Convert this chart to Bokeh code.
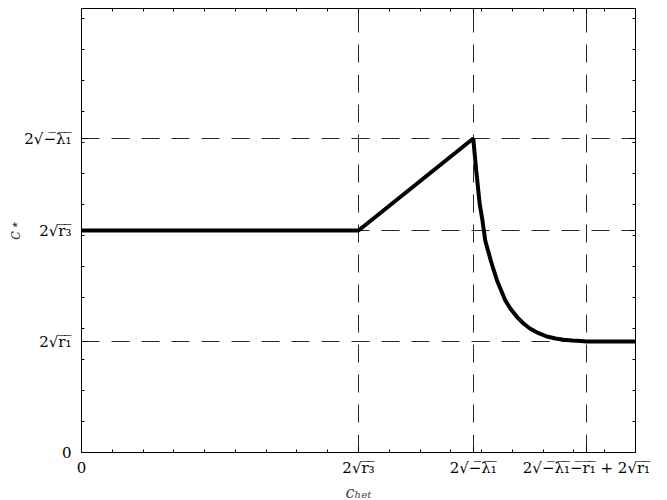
from bokeh.plotting import figure
from bokeh.models import FixedTicker, LinearAxis, Range1d
from bokeh.embed import file_html
from bokeh.resources import INLINE

OV = "\u0305"


def ov(s):
    return "".join(ch + OV for ch in s)


# model parameters used for tick positions: r1 = 1, r3 = 4, lambda1 = -8
x_ticks = [0.0, 4.0, 5.657, 7.292]
x_tick_labels = ["0", "2√" + ov("r₃"), "2√" + ov("−λ₁"),
                 "2√" + ov("−λ₁−r₁") + " + 2√" + ov("r₁")]
y_ticks = [0.0, 2.0, 4.0, 5.657]
y_tick_labels = ["0", "2√" + ov("r₁"), "2√" + ov("r₃"), "2√" + ov("−λ₁")]

# c* as a function of c
curve_x = [0.0, 4.0, 5.657, 5.70, 5.75, 5.79, 5.83, 5.91, 5.954, 6.00, 6.05,
           6.12, 6.195, 6.29, 6.387, 6.48, 6.60, 6.72, 6.845, 6.96, 7.086,
           7.21, 7.292, 8.0]
curve_y = [4.0, 4.0, 5.657, 5.08, 4.48, 4.18, 3.82, 3.46, 3.28, 3.10, 2.95,
           2.74, 2.59, 2.44, 2.32, 2.23, 2.15, 2.09, 2.054, 2.03, 2.018,
           2.01, 2.0, 2.0]

x_minor = [k * 8.0 / 18.0 for k in range(19)]
y_minor = [k * 0.5586 for k in range(15)]

FONT = "DejaVu Serif"

p = figure(frame_width=554, frame_height=444,
           x_range=Range1d(0, 8), y_range=Range1d(0, 8),
           output_backend="svg", toolbar_location=None,
           min_border_left=81, min_border_right=30,
           min_border_top=8, min_border_bottom=46,
           background_fill_color="white", border_fill_color="white")
p.outline_line_color = "black"

xt = FixedTicker(ticks=x_ticks, minor_ticks=x_minor)
yt = FixedTicker(ticks=y_ticks, minor_ticks=y_minor)

for ax, t, labels in ((p.xaxis[0], xt, x_tick_labels), (p.yaxis[0], yt, y_tick_labels)):
    ax.ticker = t
    ax.major_label_overrides = {v: s for v, s in zip(t.ticks, labels)}
    ax.major_label_text_font = FONT
    ax.major_label_text_font_size = "15px"
    ax.major_label_text_color = "black"
    ax.axis_label_text_font = FONT
    ax.axis_label_text_font_size = "16px"
    ax.axis_label_text_font_style = "italic"
    ax.axis_line_color = "black"
    ax.major_tick_line_color = "black"
    ax.minor_tick_line_color = "black"
    ax.major_tick_in = 6
    ax.major_tick_out = 0
    ax.minor_tick_in = 3
    ax.minor_tick_out = 0

p.xaxis.axis_label = "cₕₑₜ"
p.yaxis.axis_label = "c⋆"
p.xaxis.major_label_standoff = 6
p.xaxis.axis_label_standoff = 3
p.yaxis.major_label_standoff = 10
p.yaxis.axis_label_standoff = -3

# mirrored ticks on the top and right sides (no labels)
for loc, major, minor in (("above", x_ticks, x_minor), ("right", y_ticks, y_minor)):
    for pos, ln in ((major, 6), (minor, 3)):
        a = LinearAxis(ticker=FixedTicker(ticks=[], minor_ticks=pos))
        a.major_label_standoff = 0
        a.major_tick_in = 0
        a.major_tick_out = 0
        a.minor_tick_in = ln
        a.minor_tick_out = 0
        a.axis_line_color = "black"
        a.minor_tick_line_color = "black"
        p.add_layout(a, loc)

p.xgrid.ticker = FixedTicker(ticks=x_ticks[1:])
p.ygrid.ticker = FixedTicker(ticks=y_ticks[1:])
for g in (p.xgrid, p.ygrid):
    g.grid_line_color = "black"
    g.grid_line_width = 1
    g.grid_line_dash = "18 12"
    g.grid_line_alpha = 0.85

p.line(curve_x, curve_y, line_width=4, color="black")

open("out.html", "w").write(file_html(p, INLINE))
